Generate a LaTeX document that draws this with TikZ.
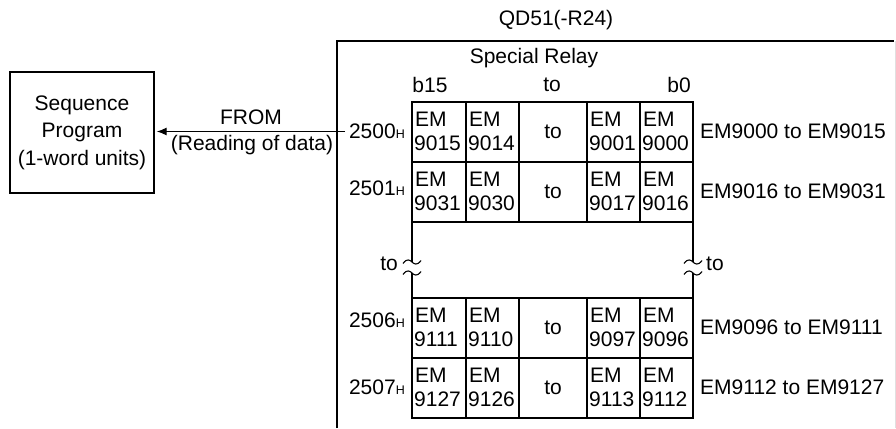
\documentclass[tikz,border=0pt]{standalone}
\usepackage{fontspec}
\setmainfont{Liberation Sans}
\usetikzlibrary{arrows.meta}
\newcommand{\hsub}{{\fontsize{12.5}{12.5}\selectfont H}}
\begin{document}
\begin{tikzpicture}[x=1pt,y=-1pt,
  txt/.style={inner sep=0pt, font=\fontsize{21}{27.5}\selectfont},
  gridline/.style={line width=1.6pt},
  frame/.style={line width=1.3pt},
  tildeline/.style={line width=1.1pt},
  ]
\useasboundingbox (0,0) rectangle (896,428);
% outer frame (open at bottom)
\draw[frame] (337,428) -- (337,41) -- (894,41);
\draw[line width=0.8pt, black!12] (895,41) -- (895,428);
% titles
\node[txt] (qd) at (556,20) {QD51(-R24)};
\node[txt] (sr) at (534,58) {Special Relay};
\node[txt] (b15) at (430,85) {b15};
\node[txt] (bto) at (552,85) {to};
\node[txt] (b0) at (679,85) {b0};
% sequence program box
\node[txt, draw, frame, minimum width=144pt, minimum height=121pt, align=center] (seq) at (82,132.5)
  {Sequence\\Program\\(1-word units)};
% arrow
\coordinate (fromstart) at (345,131.5);
\draw[line width=1.2pt, -{Latex[length=10pt,width=8pt]}] (fromstart) -- ([xshift=2pt]seq.east |- fromstart);
\node[txt] (from) at (251,117) {FROM};
\node[txt] (read) at (252,145) {(Reading of data)};
% grid rows
\foreach \r/\t/\ly/\a/\b/\c/\d/\lab/\rlab in {
  1/102/131/9015/9014/9001/9000/2500/{EM9000 to EM9015},
  2/162/188/9031/9030/9017/9016/2501/{EM9016 to EM9031},
  3/298/320/9111/9110/9097/9096/2506/{EM9096 to EM9111},
  4/358/387/9127/9126/9113/9112/2507/{EM9112 to EM9127}} {
  \draw[gridline] (412,\t) rectangle (693,\t+60);
  \foreach \xx in {466,519,587,640} \draw[gridline] (\xx,\t) -- (\xx,\t+60);
  \foreach \xx/\n/\v in {412/a/\a,466/b/\b,587/c/\c,640/d/\d} {
    \node[txt, anchor=base west] (em\r\n) at (\xx+3,\t+24) {EM};
    \node[txt, anchor=base west] (num\r\n) at (\xx+2,\t+48) {\v};
  }
  \node[txt] (to\r) at (553,\t+30) {to};
  \node[txt, anchor=east] (addr\r) at (405,\ly) {\lab\hsub};
  \node[txt, anchor=west] (rng\r) at (700,\t+29) {\rlab};
}
% gap with break marks
\foreach \xx in {412,693} {
  \draw[gridline] (\xx,222) -- (\xx,262);
  \draw[gridline] (\xx,273) -- (\xx,298);
  \foreach \yy in {262,273}
    \draw[tildeline] (\xx-9,\yy+1.5) .. controls (\xx-5,\yy-4) and (\xx-2,\yy-2) .. (\xx,\yy)
      .. controls (\xx+2,\yy+2) and (\xx+5,\yy+4) .. (\xx+9,\yy-1.5);
}
\node[txt, anchor=east] (toL) at (398,264) {to};
\node[txt, anchor=west] (toR) at (706,264) {to};
\end{tikzpicture}
\end{document}
